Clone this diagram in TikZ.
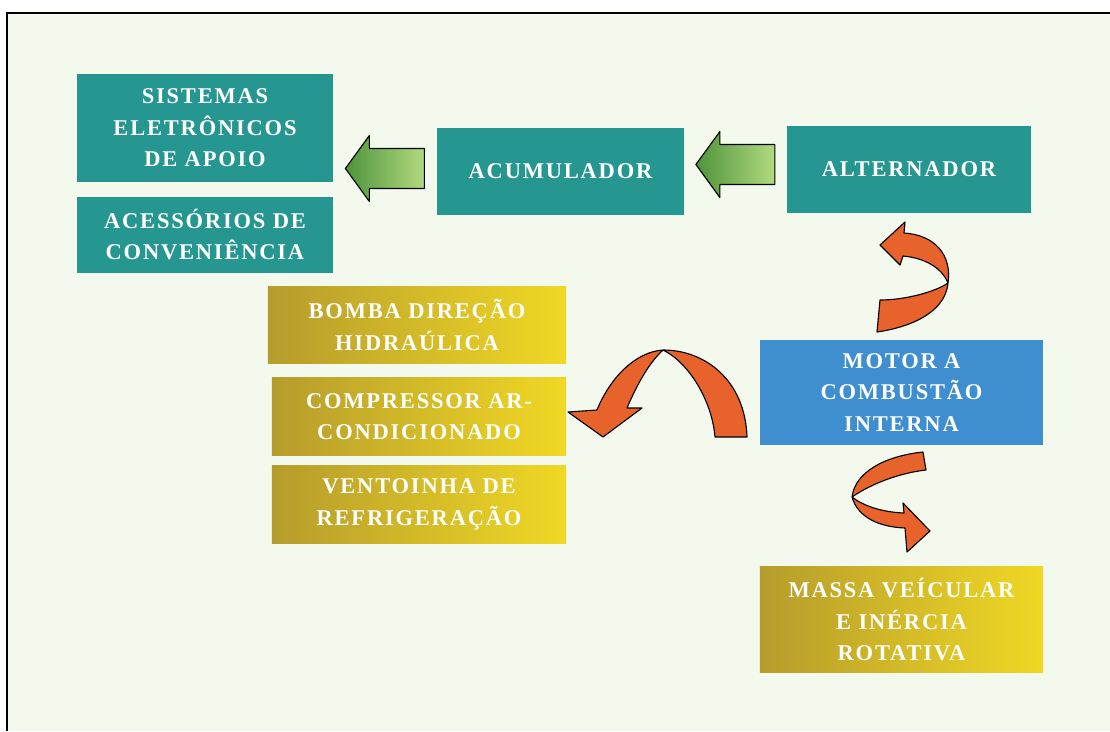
\documentclass[tikz,border=0pt]{standalone}
\usepackage{fontspec}
\setmainfont{Liberation Serif}
\newfontfamily\boxfont[LetterSpace=8]{Liberation Serif}
\usetikzlibrary{positioning,calc}

\definecolor{pagebg}{RGB}{244,249,238}
\definecolor{tealbox}{RGB}{38,150,145}
\definecolor{bluebox}{RGB}{62,142,208}
\definecolor{olivebox}{RGB}{182,156,44}
\definecolor{yellowbox}{RGB}{240,216,36}
\definecolor{arrgreen}{RGB}{78,148,58}
\definecolor{arrlight}{RGB}{178,218,128}
\definecolor{arrorange}{RGB}{232,98,44}

\tikzset{
	box/.style={rectangle, inner sep=0pt, align=center, text=white,
		font=\boxfont\bfseries\fontsize{16}{22.5}\selectfont},
	tealnode/.style={box, fill=tealbox},
	yellownode/.style={box, left color=olivebox, right color=yellowbox},
	bluenode/.style={box, fill=bluebox},
	greenarrow/.style={draw=black, line width=0.8pt, line join=round,
		left color=arrgreen, right color=arrlight},
	curlarrow/.style={fill=arrorange, draw=black, line width=0.8pt, line join=round}
}

\begin{document}
\begin{tikzpicture}[x=0.025cm, y=-0.025cm]
	\useasboundingbox (0,0) rectangle (1110,731);
	\fill[white] (0,0) rectangle (1110,731);
	\fill[pagebg] (7,13) rectangle (1110,731);
	\draw[line width=1.2pt] (7,731) -- (7,13) -- (1110,13);

	% teal column and top row
	\node[tealnode, minimum width=6.4cm, minimum height=2.7cm] (sis) at (205,128) {SISTEMAS\\ELETRÔNICOS\\DE APOIO};
	\node[tealnode, minimum width=6.4cm, minimum height=1.9cm, below=0.35cm of sis] (aces) {ACESSÓRIOS DE\\CONVENIÊNCIA};
	\node[tealnode, minimum width=6.175cm, minimum height=2.175cm] (acum) at (560.5,171.5) {ACUMULADOR};
	\node[tealnode, minimum width=6.1cm, minimum height=2.175cm] (alt) at (909,169.5) {ALTERNADOR};

	% yellow loads
	\node[yellownode, minimum width=7.45cm, minimum height=1.9cm] (bomba) at (417,325) {BOMBA DIREÇÃO\\HIDRAÚLICA};
	\node[yellownode, minimum width=7.35cm, minimum height=1.925cm] (comp) at (419,416.5) {COMPRESSOR AR-\\CONDICIONADO};
	\node[yellownode, minimum width=7.35cm, minimum height=1.95cm, below=0.25cm of comp] (vent) {VENTOINHA DE\\REFRIGERAÇÃO};

	% engine and mass
	\node[bluenode, minimum width=7.075cm, minimum height=2.625cm] (motor) at (901.5,392.5) {MOTOR A\\COMBUSTÃO\\INTERNA};
	\node[yellownode, minimum width=7.075cm, minimum height=2.65cm, below=3.025cm of motor] (massa) {MASSA VEÍCULAR\\E INÉRCIA\\ROTATIVA};

	% green block arrows
	\coordinate (arrA) at ($(sis.east|-acum.west)!0.5!(acum.west)+(0,-3)$);
	\coordinate (arrB) at ($(acum.east)!0.5!(alt.west)+(0,-6)$);
	\foreach \a in {arrA,arrB}
		\draw[greenarrow] ([xshift=-0.99cm]\a) -- ++(24,-33) -- ++(0,13) -- ++(55,0)
			-- ++(0,40) -- ++(-55,0) -- ++(0,13) -- cycle;

	% orange curled arrows
	\begin{scope}
	\draw[curlarrow] (747,437) .. controls (745,380) and (705,350) .. (663,350)
		.. controls (635,352) and (610,378) .. (597,410) -- (568,412) -- (603,437) -- (642,408) -- (627,408)
		.. controls (638,382) and (650,362) .. (663,350)
		.. controls (688,362) and (712,400) .. (715,437) -- cycle;
	\draw[curlarrow] (880,300) .. controls (905,300) and (935,292) .. (948,283)
		.. controls (942,268) and (925,258) .. (903,256) -- (900,265) -- (880,245) -- (905,222) -- (904,233)
		.. controls (935,235) and (952,255) .. (948,283)
		.. controls (945,315) and (905,328) .. (877,332) -- cycle;
	\draw[curlarrow] (923,452) .. controls (885,456) and (855,472) .. (852,497)
		.. controls (858,518) and (880,527) .. (905,528) -- (907,552) -- (930,531) -- (903,503) -- (904,513)
		.. controls (880,512) and (862,505) .. (852,497)
		.. controls (865,488) and (892,474) .. (926,470) -- cycle;
	\end{scope}
\end{tikzpicture}
\end{document}
